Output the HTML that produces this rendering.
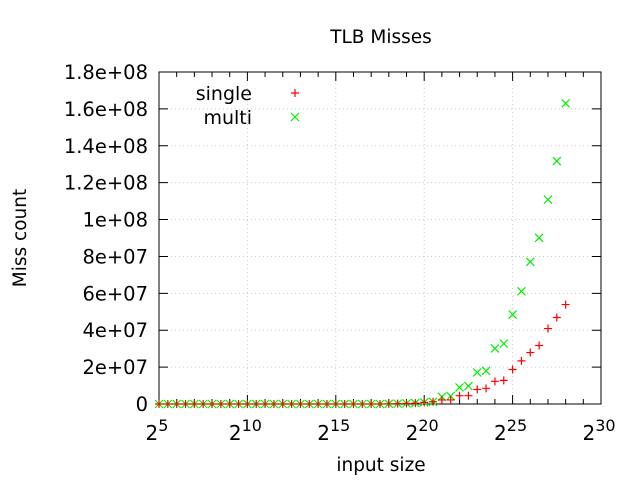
<!DOCTYPE html>
<html><head><meta charset="utf-8"><style>
body{margin:0;background:#fff}
svg{display:block;font-family:"DejaVu Sans","Liberation Sans",sans-serif}
</style></head><body>
<svg id="c" width="640" height="480" viewBox="0 0 640 480">
<text x="381" y="43" font-size="18.5" text-anchor="middle">TLB Misses</text>
<text x="26" y="238" font-size="18.5" text-anchor="middle" transform="rotate(-90 26 238)">Miss count</text>
<text x="381" y="471" font-size="18.5" text-anchor="middle">input size</text>
<g id="grid"></g><g id="axes"></g><g id="marks"></g>
<g>
<text x="252" y="100" font-size="19" text-anchor="end">single</text>
<text x="252" y="124" font-size="19" text-anchor="end">multi</text>
<path d="M291 93h8M295 89v8" stroke="#ff0000" stroke-width="1.2"/>
<path d="M291 113l8 8M291 121l8-8" stroke="#00ee00" stroke-width="1.2"/>
</g>
</svg>
<script>
const exps=[5,5.5,6,6.5,7,7.5,8,8.5,9,9.5,10,10.5,11,11.5,12,12.5,13,13.5,14,14.5,15,15.5,16,16.5,17,17.5,18,18.5,19,19.5,20,20.5,21,21.5,22,22.5,23,23.5,24,24.5,25,25.5,26,26.5,27,27.5,28];
const single=[0,0,0,0,0,0,0,0,0,0,0,0,0,0,0,0,0,0,0,0,0,0,0,0,0,0,0.1,0.2,0.3,0.5,0.9,1.2,2.2,2.2,4.5,4.5,7.9,8.5,12.3,12.8,18.7,23.4,27.9,31.7,40.9,46.9,53.9];
const multi=[0,0,0,0,0,0,0,0,0,0,0,0,0,0,0,0,0,0,0,0,0,0,0,0,0,0,0.1,0.2,0.3,0.5,0.9,1.2,3.9,4.3,9.0,9.7,17.1,18.0,30.1,32.8,48.5,61.1,77.1,90.1,110.8,131.7,163.0];
const yTicks=[0,20,40,60,80,100,120,140,160,180];
const yTickLabels=["0","2e+07","4e+07","6e+07","8e+07","1e+08","1.2e+08","1.4e+08","1.6e+08","1.8e+08"];
const xTicks=[5,10,15,20,25,30];
const L=159,R=601,T=72,B=404;
const X=e=>L+(e-5)/(30-5)*(R-L);
const Y=v=>B-v/180*(B-T);
const NS="http://www.w3.org/2000/svg";
function mk(tag,attrs,parent){const el=document.createElementNS(NS,tag);for(const k in attrs)el.setAttribute(k,attrs[k]);parent.appendChild(el);return el;}
const grid=document.getElementById('grid'),axes=document.getElementById('axes'),marks=document.getElementById('marks');
yTicks.forEach((t,i)=>{
 if(i>0&&i<yTicks.length-1){const g=mk('line',{x1:L,x2:R,y1:Y(t),y2:Y(t),stroke:'#ccc','stroke-dasharray':'1,3'},grid);
 
 }
 const a=mk('path',{d:`M${L} ${Y(t)}h9M${R} ${Y(t)}h-9`,stroke:'#000'},axes);
 
 
 const tx=mk('text',{x:148,y:Y(t)+7,'font-size':19.5,'text-anchor':'end'},axes);tx.textContent=yTickLabels[i];
 
 
});
for(let e=5;e<=30;e++){
 const major=xTicks.includes(e);const len=major?9:5;
 const a=mk('path',{d:`M${X(e)} ${B}v-${len}M${X(e)} ${T}v${len}`,stroke:'#000'},axes);
 
 
}
xTicks.forEach(e=>{
 if(e>5&&e<30){const g=mk('line',{x1:X(e),x2:X(e),y1:T,y2:B,stroke:'#ccc','stroke-dasharray':'1,3'},grid);
 
 }
 const tx=mk('text',{x:X(e)-2,y:440,'font-size':20,'text-anchor':'middle'},axes);
 tx.innerHTML='2<tspan dy="-9" font-size="16">'+e+'</tspan>';
 
 
});
const fr=mk('rect',{x:L,y:T,width:R-L,height:B-T,fill:'none',stroke:'#000'},axes);


exps.forEach((e,i)=>{
 const x=X(e),ym=Y(multi[i]),ys=Y(single[i]);
 const m=mk('path',{d:`M${x-4} ${ym-4}l8 8M${x-4} ${ym+4}l8-8`,stroke:'#00ee00','stroke-width':1.2},marks);
 
 
 const s=mk('path',{d:`M${x-4} ${ys}h8M${x} ${ys-4}v8`,stroke:'#ff0000','stroke-width':1.2},marks);
 
 
});
</script>
</body></html>
